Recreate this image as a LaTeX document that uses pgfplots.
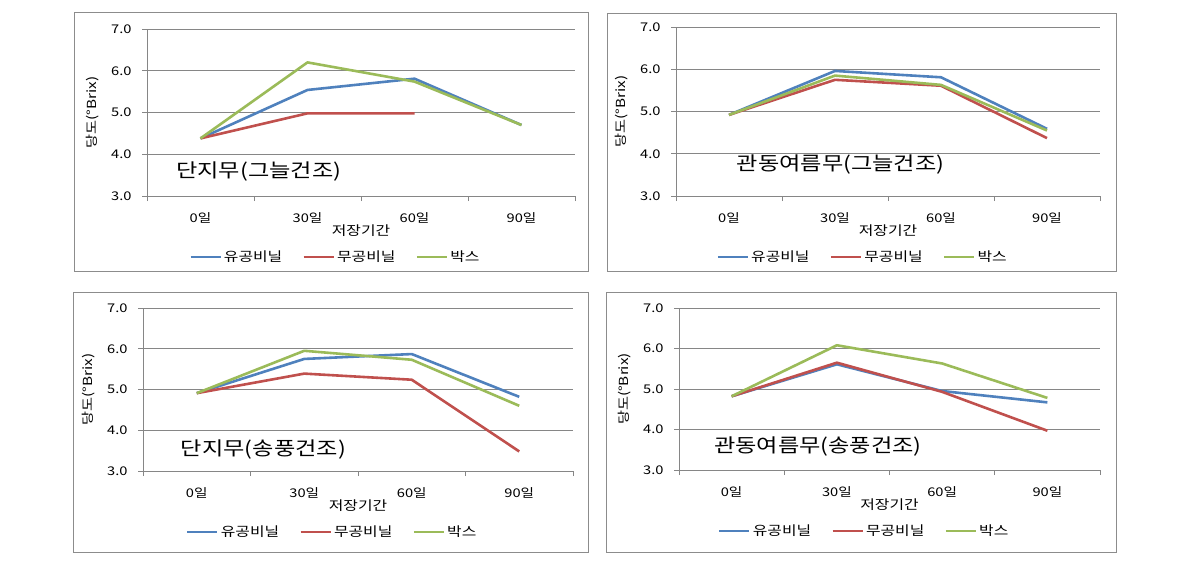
\documentclass[border=0pt]{standalone}
\usepackage{fontspec}
\setmainfont{Noto Sans CJK KR}[FakeStretch=1.22]
\usepackage{pgfplots}
\pgfplotsset{compat=1.18}
\definecolor{cb}{HTML}{4F81BD}
\definecolor{cr}{HTML}{C0504D}
\definecolor{cg}{HTML}{9BBB59}
\definecolor{gridc}{HTML}{868686}
\definecolor{framec}{HTML}{8C8C8C}
\pgfplotsset{panel/.style={
  anchor=south west, scale only axis,
  xmin=-0.5, xmax=3.5, ymin=3, ymax=7,
  axis x line*=bottom, axis y line*=left,
  axis line style={gridc, line width=0.8pt},
  xtick={-0.5,0.5,1.5,2.5,3.5},
  x tick label as interval,
  xticklabels={0일,30일,60일,90일},
  ytick={3,4,5,6,7},
  tick align=outside, major tick length=5pt,
  tick style={gridc, line width=0.8pt},
  ymajorgrids, grid style={gridc, line width=0.8pt},
  /pgf/number format/assume math mode=true,
  yticklabel style={/pgf/number format/.cd, fixed, fixed zerofill, precision=1, /tikz/.cd, xshift=-7pt},
  ticklabel style={font=\fontsize{12}{14}\selectfont, text=black},
  xticklabel style={yshift=-8pt},
  xlabel={저장기간}, ylabel={당도(°Brix)},
  xlabel style={at={(axis description cs:0.5,0)}, yshift=-35pt, anchor=center, font=\fontsize{13}{15}\selectfont},
  ylabel style={at={([xshift=-54pt]axis description cs:0,0.5)}, anchor=center, font=\fontsize{12.5}{14}\selectfont},
  legend style={at={(axis description cs:0.44,0)}, yshift=-61pt, anchor=center, draw=none, fill=none,
    legend columns=3, font=\fontsize{13}{15}\selectfont, inner sep=0pt,
    /tikz/every even column/.append style={column sep=18pt}},
  legend image code/.code={\draw[#1, line width=2.8pt] (0pt,0pt) -- (30pt,0pt);},
  every axis plot/.append style={line width=2.6pt, mark=none, line join=round},
}}
\begin{document}
\begin{tikzpicture}
\path[use as bounding box] (0pt,0pt) rectangle (1193pt,566pt);
\draw[framec, line width=0.9pt] (74pt,295pt) rectangle (588pt,554pt);
\draw[framec, line width=0.9pt] (607pt,295pt) rectangle (1116pt,553pt);
\draw[framec, line width=0.9pt] (73pt,14pt) rectangle (588pt,274pt);
\draw[framec, line width=0.9pt] (606pt,14pt) rectangle (1116pt,274pt);

% Panel 1
\begin{axis}[panel, at={(147pt,370pt)}, width=428pt, height=167pt]
\addplot[cb] coordinates {(0,4.38) (1,5.54) (2,5.81) (3,4.70)};
\addplot[cr] coordinates {(0,4.38) (1,4.98) (2,4.98)};
\addplot[cg] coordinates {(0,4.38) (1,6.20) (2,5.74) (3,4.70)};
\legend{유공비닐,무공비닐,박스}
\node[anchor=west, font=\fontsize{19}{22}\selectfont] at (axis cs:-0.26,3.58) {단지무(그늘건조)};
\end{axis}

% Panel 2
\begin{axis}[panel, at={(676pt,370pt)}, width=424pt, height=169pt]
\addplot[cb] coordinates {(0,4.92) (1,5.96) (2,5.81) (3,4.59)};
\addplot[cr] coordinates {(0,4.92) (1,5.75) (2,5.61) (3,4.37)};
\addplot[cg] coordinates {(0,4.92) (1,5.85) (2,5.63) (3,4.55)};
\legend{유공비닐,무공비닐,박스}
\node[anchor=west, font=\fontsize{19}{22}\selectfont] at (axis cs:0.04,3.74) {관동여름무(그늘건조)};
\end{axis}

% Panel 3
\begin{axis}[panel, at={(143pt,95pt)}, width=430pt, height=163pt]
\addplot[cb] coordinates {(0,4.91) (1,5.75) (2,5.87) (3,4.82)};
\addplot[cr] coordinates {(0,4.91) (1,5.39) (2,5.24) (3,3.48)};
\addplot[cg] coordinates {(0,4.91) (1,5.95) (2,5.73) (3,4.60)};
\legend{유공비닐,무공비닐,박스}
\node[anchor=west, font=\fontsize{19}{22}\selectfont] at (axis cs:-0.18,3.52) {단지무(송풍건조)};
\end{axis}

% Panel 4
\begin{axis}[panel, at={(679pt,96pt)}, width=421pt, height=162pt]
\addplot[cb] coordinates {(0,4.82) (1,5.61) (2,4.95) (3,4.67)};
\addplot[cr] coordinates {(0,4.82) (1,5.65) (2,4.93) (3,3.97)};
\addplot[cg] coordinates {(0,4.82) (1,6.08) (2,5.63) (3,4.78)};
\legend{유공비닐,무공비닐,박스}
\node[anchor=west, font=\fontsize{19}{22}\selectfont] at (axis cs:-0.2,3.57) {관동여름무(송풍건조)};
\end{axis}
\end{tikzpicture}
\end{document}
